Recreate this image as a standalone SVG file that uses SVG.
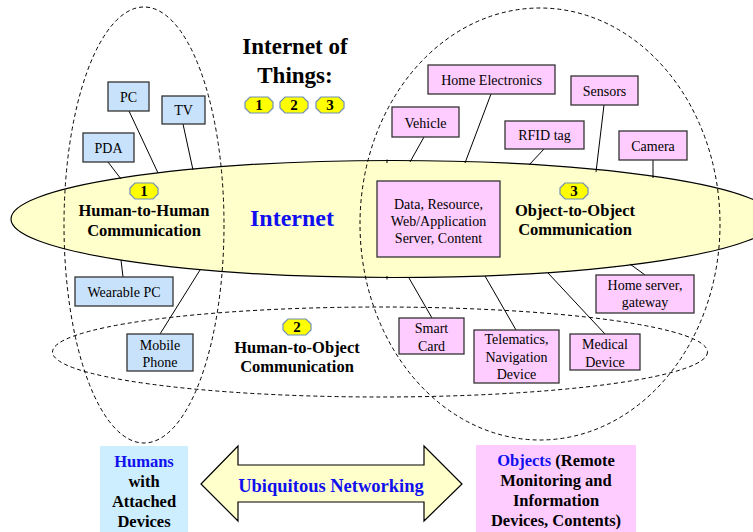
<svg xmlns="http://www.w3.org/2000/svg" width="753" height="532" viewBox="0 0 753 532">
<style>
text{font-family:"Liberation Serif","Times New Roman",serif;text-anchor:middle;fill:#000}
.bx{font-size:14px}
.b{font-weight:bold}
.blue{fill:#1010ee}
.hb{fill:#c9e2fb;stroke:#333;stroke-width:1.3}
.pb{fill:#ffccff;stroke:#333;stroke-width:1.3}
.dash{fill:none;stroke:#000;stroke-width:1;stroke-dasharray:4 3}
.ln{stroke:#000;stroke-width:1;fill:none}
.badge{fill:#ffff00;stroke:#6f8fb8;stroke-width:1.2}
.bt{font-size:15px;font-weight:bold}
</style>
<defs>
<path id="bdg" d="M5,0 H23 L28,5 V11 L23,16 H5 L0,11 V5 Z"/>
</defs>
<rect width="753" height="532" fill="#fff"/>

<g id="internet">
<ellipse cx="393" cy="219" rx="382" ry="58.5" fill="#ffffcc" stroke="#000" stroke-width="1.2"/>
<text x="292" y="226" class="b blue" style="font-size:24px">Internet</text>
</g>

<g id="regions">
<ellipse class="dash" cx="144" cy="225" rx="80" ry="218"/>
<ellipse class="dash" cx="540" cy="224" rx="180" ry="216"/>
<ellipse class="dash" cx="380" cy="352" rx="327.5" ry="45"/>
</g>

<g id="connectors">
<line class="ln" x1="108" y1="162" x2="121" y2="179"/>
<line class="ln" x1="129" y1="111" x2="158" y2="173"/>
<line class="ln" x1="183" y1="124" x2="193" y2="170"/>
<line class="ln" x1="121" y1="260" x2="123" y2="277"/>
<line class="ln" x1="200" y1="270" x2="160" y2="334"/>
<line class="ln" x1="424" y1="137" x2="410" y2="162"/>
<line class="ln" x1="491" y1="94" x2="465" y2="163"/>
<line class="ln" x1="544" y1="149" x2="529" y2="165"/>
<line class="ln" x1="604" y1="105" x2="596" y2="172"/>
<line class="ln" x1="653" y1="160" x2="653" y2="178"/>
<line class="ln" x1="630" y1="264" x2="645" y2="275"/>
<line class="ln" x1="432" y1="318" x2="409" y2="278"/>
<line class="ln" x1="516" y1="330" x2="485" y2="276"/>
<line class="ln" x1="605" y1="334" x2="548" y2="273"/>
<line class="ln" x1="387" y1="159.5" x2="387" y2="163"/>
<line class="ln" x1="387" y1="276" x2="387" y2="279.5"/>
</g>

<g id="title">
<text x="295" y="54" class="b" style="font-size:23px">Internet of</text>
<text x="295" y="83" class="b" style="font-size:23px">Things:</text>
</g>
<g id="badges-top">
<use href="#bdg" x="245" y="97" class="badge"/><text x="259" y="110" class="bt">1</text>
<use href="#bdg" x="280" y="97" class="badge"/><text x="294" y="110" class="bt">2</text>
<use href="#bdg" x="316" y="97" class="badge"/><text x="330" y="110" class="bt">3</text>
</g>

<g id="h2h">
<use href="#bdg" x="130" y="183" class="badge"/><text x="144" y="196" class="bt">1</text>
<text x="144" y="216" class="b" style="font-size:16.5px">Human-to-Human</text>
<text x="144" y="236" class="b" style="font-size:16.5px">Communication</text>
</g>
<g id="o2o">
<use href="#bdg" x="560" y="183" class="badge"/><text x="574" y="196" class="bt">3</text>
<text x="575" y="216" class="b" style="font-size:16.5px">Object-to-Object</text>
<text x="575" y="235" class="b" style="font-size:16.5px">Communication</text>
</g>
<g id="h2o">
<use href="#bdg" x="283" y="319" class="badge"/><text x="297" y="332" class="bt">2</text>
<text x="297" y="353" class="b" style="font-size:16.5px">Human-to-Object</text>
<text x="297" y="372" class="b" style="font-size:16.5px">Communication</text>
</g>

<g id="pc"><rect class="hb" x="108" y="82" width="41" height="29"/><text class="bx" x="128.5" y="102">PC</text></g>
<g id="tv"><rect class="hb" x="162" y="96" width="43" height="28"/><text class="bx" x="183.5" y="114.5">TV</text></g>
<g id="pda"><rect class="hb" x="83" y="133" width="51" height="29"/><text class="bx" x="108.5" y="153">PDA</text></g>
<g id="wearable"><rect class="hb" x="75" y="277" width="98" height="29"/><text class="bx" x="124" y="297">Wearable PC</text></g>
<g id="mobile"><rect class="hb" x="127" y="334" width="66" height="37"/><text class="bx" x="160" y="350">Mobile</text><text class="bx" x="160" y="367">Phone</text></g>

<g id="homeelec"><rect class="pb" x="428" y="65" width="127" height="29"/><text class="bx" x="491.5" y="85">Home Electronics</text></g>
<g id="vehicle"><rect class="pb" x="392" y="107" width="67" height="30"/><text class="bx" x="425.5" y="128">Vehicle</text></g>
<g id="sensors"><rect class="pb" x="571" y="76" width="67" height="29"/><text class="bx" x="604.5" y="96">Sensors</text></g>
<g id="rfid"><rect class="pb" x="505" y="121" width="79" height="28"/><text class="bx" x="544.5" y="140">RFID tag</text></g>
<g id="camera"><rect class="pb" x="619" y="131" width="68" height="29"/><text class="bx" x="653" y="151">Camera</text></g>
<g id="server"><rect class="pb" x="377" y="181" width="123" height="76"/>
<text class="bx" x="438.5" y="209">Data, Resource,</text>
<text class="bx" x="438.5" y="226">Web/Application</text>
<text class="bx" x="438.5" y="243">Server, Content</text></g>
<g id="homeserver"><rect class="pb" x="596" y="275" width="98" height="38"/><text class="bx" x="645" y="290">Home server,</text><text class="bx" x="645" y="307">gateway</text></g>
<g id="smartcard"><rect class="pb" x="399" y="318" width="65" height="36"/><text class="bx" x="431.5" y="333">Smart</text><text class="bx" x="431.5" y="351">Card</text></g>
<g id="telematics"><rect class="pb" x="474" y="330" width="85" height="53"/><text class="bx" x="516.5" y="344">Telematics,</text><text class="bx" x="516.5" y="362">Navigation</text><text class="bx" x="516.5" y="379">Device</text></g>
<g id="medical"><rect class="pb" x="570" y="334" width="70" height="36"/><text class="bx" x="605" y="349">Medical</text><text class="bx" x="605" y="367">Device</text></g>

<g id="humans">
<rect x="100" y="446" width="88" height="86" fill="#cceeff"/>
<text x="144" y="467" class="b blue" style="font-size:16.5px">Humans</text>
<text x="144" y="487" class="b" style="font-size:16.5px">with</text>
<text x="144" y="507" class="b" style="font-size:16.5px">Attached</text>
<text x="144" y="527" class="b" style="font-size:16.5px">Devices</text>
</g>
<g id="ubiquitous">
<polygon points="201,484 238,446 238,465 424,465 424,446 462,484 424,521 424,502 238,502 238,521" fill="#ffffcc" stroke="#000" stroke-width="1.2"/>
<text x="331" y="492" class="b blue" style="font-size:18.5px">Ubiquitous Networking</text>
</g>
<g id="objects">
<rect x="476" y="445" width="160" height="87" fill="#ffccff"/>
<text x="556" y="466" class="b" style="font-size:16.5px"><tspan class="blue">Objects</tspan> (Remote</text>
<text x="556" y="486" class="b" style="font-size:16.5px">Monitoring and</text>
<text x="556" y="506" class="b" style="font-size:16.5px">Information</text>
<text x="556" y="526" class="b" style="font-size:16.5px">Devices, Contents)</text>
</g>
</svg>
